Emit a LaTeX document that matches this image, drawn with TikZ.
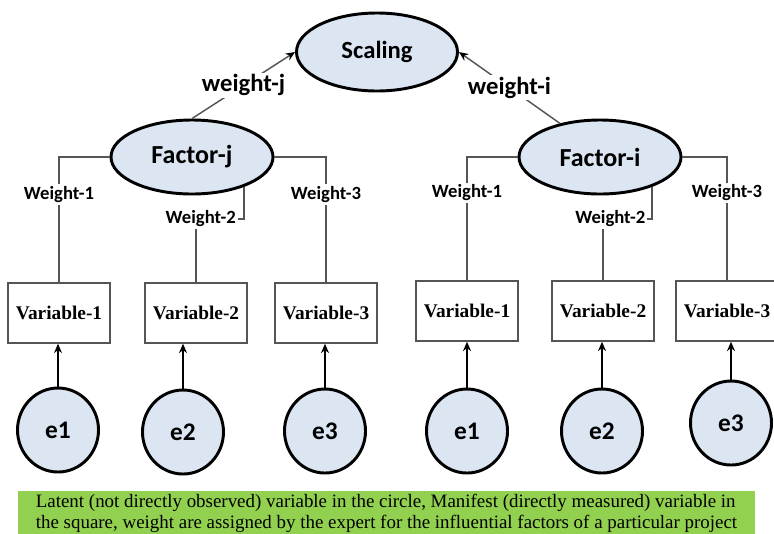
\documentclass[tikz,border=0pt]{standalone}
\usepackage{fontspec}
\setmainfont{Liberation Serif}
\newfontfamily\calfont{Carlito}
\usetikzlibrary{arrows.meta,shapes.geometric}
\definecolor{latblue}{RGB}{220,230,242}
\definecolor{notegreen}{RGB}{146,208,80}
\definecolor{linkgray}{RGB}{85,85,85}

\begin{document}
\begin{tikzpicture}[x=0.75pt, y=-0.75pt,
  latent/.style={draw=black, fill=latblue, ellipse, line width=2.2pt, inner sep=0pt},
  scalenode/.style={latent, minimum width=120.75pt, minimum height=58.5pt, font=\calfont\bfseries\fontsize{18.5}{20}\selectfont},
  factor/.style={latent, minimum width=121.5pt, minimum height=55.5pt, font=\calfont\bfseries\fontsize{19.5}{21}\selectfont},
  errnode/.style={latent, minimum width=60.75pt, minimum height=63pt, font=\calfont\bfseries\fontsize{19}{21}\selectfont},
  manifest/.style={draw=linkgray, fill=white, line width=1.1pt, minimum width=76.5pt, minimum height=45pt, inner sep=0pt, font=\bfseries\fontsize{14.5}{16}\selectfont},
  wlabel/.style={fill=white, inner sep=1.5pt, font=\calfont\bfseries\fontsize{14}{15}\selectfont},
  toplabel/.style={fill=white, inner sep=1.5pt, text=black, font=\calfont\bfseries\fontsize{18.5}{20}\selectfont},
  link/.style={draw=linkgray, line width=1.1pt},
  errarrow/.style={-{Stealth[length=7pt,width=6pt,black]}, line width=1.1pt}
]
  \useasboundingbox (0,0) rectangle (774,533);

  % latent nodes
  \node[scalenode] (scal) at (377,52) {Scaling};
  \node[factor] (fj) at (192,157) {Factor-j};
  \node[factor] (fi) at (600,157) {Factor-i};

  % manifest variables
  \node[manifest] (vj1) at (59,313) {Variable-1};
  \node[manifest] (vj2) at (196,313) {Variable-2};
  \node[manifest] (vj3) at (326,313) {Variable-3};
  \node[manifest] (vi1) at (467,311) {Variable-1};
  \node[manifest] (vi2) at (603,311) {Variable-2};
  \node[manifest] (vi3) at (727,311) {Variable-3};

  % error terms
  \node[errnode] (ej1) at (58,430) {e1};
  \node[errnode] (ej2) at (183,432) {e2};
  \node[errnode] (ej3) at (325,431) {e3};
  \node[errnode] (ei1) at (467,431) {e1};
  \node[errnode] (ei2) at (602,431) {e2};
  \node[errnode] (ei3) at (731,423) {e3};

  % factors to scaling
  \draw[link, errarrow, linkgray] (fj.north) -- node[toplabel] (wj) {weight-j} (scal.west);
  \draw[link, errarrow, linkgray] (fi.140) -- node[toplabel] (wi) {weight-i} (scal.east);

  % factor-j links
  \draw[link] (fj.west) -| node[wlabel, pos=0.65] (wj1) {Weight-1} (vj1.north);
  \draw[link] (fj.-30) -- ++(0,32) -| node[wlabel, pos=0.45] (wj2) {Weight-2} (vj2.north);
  \draw[link] (fj.east) -| node[wlabel, pos=0.65] (wj3) {Weight-3} (vj3.north);

  % factor-i links
  \draw[link] (fi.west) -| node[wlabel, pos=0.645] (wi1) {Weight-1} (vi1.north);
  \draw[link] (fi.-30) -- ++(0,32) -| node[wlabel, pos=0.425] (wi2) {Weight-2} (vi2.north);
  \draw[link] (fi.east) -| node[wlabel, pos=0.645] (wi3) {Weight-3} (vi3.north);

  % errors to variables
  \draw[errarrow] (ej1.north) -- (ej1.north |- vj1.south);
  \draw[errarrow] (ej2.north) -- (ej2.north |- vj2.south);
  \draw[errarrow] (ej3.north) -- (ej3.north |- vj3.south);
  \draw[errarrow] (ei1.north) -- (ei1.north |- vi1.south);
  \draw[errarrow] (ei2.north) -- (ei2.north |- vi2.south);
  \draw[errarrow] (ei3.north) -- (ei3.north |- vi3.south);

  % note
  \node[fill=notegreen, minimum width=552.75pt, minimum height=33pt, inner sep=0pt, align=left, font=\fontsize{14.2}{15.8}\selectfont] (note) at (386.5,513)
    {Latent (not directly observed) variable in the circle, Manifest (directly measured) variable in\\the square, weight are assigned by the expert for the influential factors of a particular project};
\end{tikzpicture}
\end{document}
